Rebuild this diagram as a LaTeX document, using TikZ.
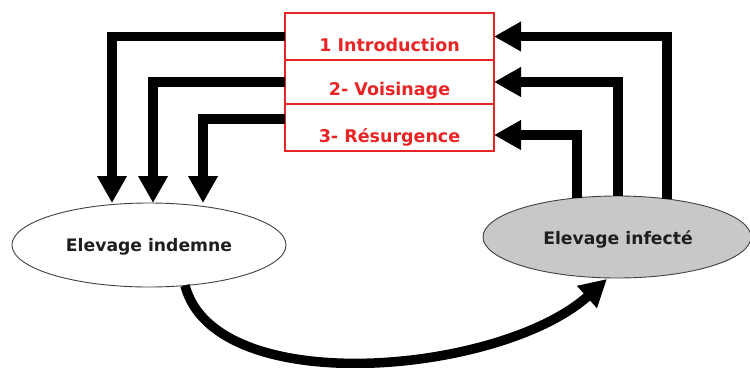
\documentclass[tikz,border=0pt]{standalone}
\usepackage{fontspec}
\setmainfont{DejaVu Sans}
\usetikzlibrary{arrows.meta,shapes.geometric,calc}
\definecolor{boxred}{RGB}{232,36,36}
\definecolor{infgray}{RGB}{200,200,200}
\definecolor{inkdark}{RGB}{30,30,30}
\begin{document}
\begin{tikzpicture}[x=1pt,y=-1pt,
  flow/.style={line width=9.5pt,-{Triangle[width=28pt,length=27pt]}},
  catbox/.style={draw=boxred,line width=1.3pt,minimum width=209pt,inner sep=0pt,outer sep=0pt},
  cattext/.style={text=boxred,font=\bfseries\fontsize{17.5}{20}\selectfont,anchor=base,inner sep=0pt},
  farm/.style={ellipse,draw=black!75,line width=0.9pt,inner sep=0pt,outer sep=0pt},
  farmtext/.style={text=inkdark,font=\bfseries\fontsize{17.2}{20}\selectfont,anchor=base,inner sep=0pt}]
\useasboundingbox (0,0) rectangle (750,367);
% category boxes
\node[catbox,minimum height=47pt] (box1) at (389.5,36.5) {};
\node[catbox,minimum height=44pt] (box2) at (389.5,82) {};
\node[catbox,minimum height=47pt] (box3) at (389.5,127.5) {};
\node[cattext] (t1) at (389.5,51) {1 Introduction};
\node[cattext] (t2) at (389.5,95) {2- Voisinage};
\node[cattext] (t3) at (389.5,142) {3- Résurgence};
% farms
\node[farm,fill=white,minimum width=274pt,minimum height=84pt] (indemne) at (149,245) {};
\node[farm,fill=infgray,minimum width=268pt,minimum height=82pt] (infecte) at (617,237) {};
\node[farmtext] (ti) at (149,251) {Elevage indemne};
\node[farmtext] (tf) at (618,244) {Elevage infecté};
% arrows to the healthy farm
\draw[flow] (box1.west) -| ([xshift=-37pt]indemne.north);
\draw[flow] (box2.west) -| ([xshift=4pt]indemne.north);
\draw[flow] ([yshift=8.5pt]box3.west) -| ([xshift=54pt]indemne.north);
% arrows from the infected farm
\draw[flow] ($(infecte.north)+(50,3)$) |- (box1.east);
\draw[flow] ($(infecte.north)+(1,0)$) |- (box2.east);
\draw[flow] ($(infecte.north)+(-40,2)$) |- ([yshift=-7.5pt]box3.east);
% transmission
\draw[flow] ($(indemne.south)+(36,-1.5)$) .. controls (215,400) and (500,375) .. ($(infecte.south)+(-10,1)$);
\end{tikzpicture}
\end{document}
